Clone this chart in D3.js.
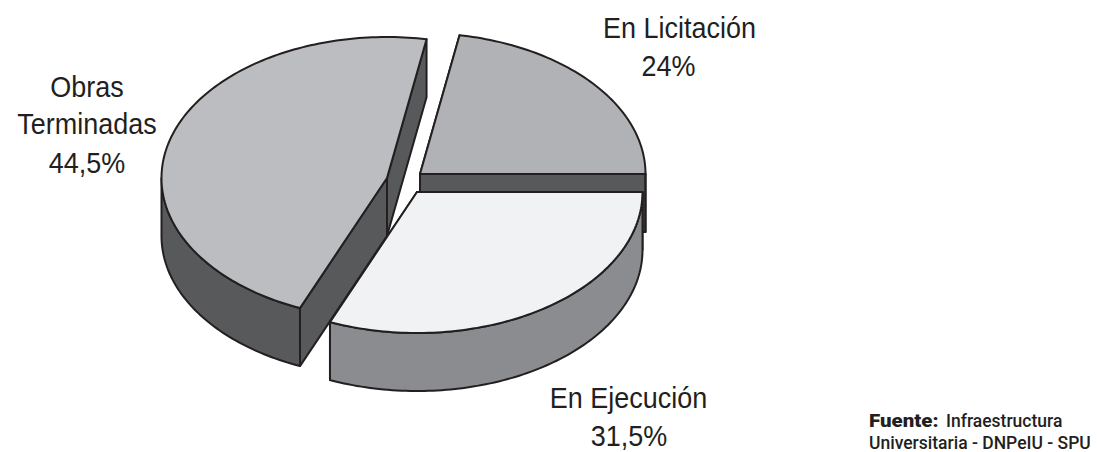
<!DOCTYPE html>
<html>
<head>
<meta charset="utf-8">
<script src="https://cdn.jsdelivr.net/npm/d3@7"></script>
<style>
  html, body { margin: 0; padding: 0; background: #fff; }
  svg { display: block; }
</style>
</head>
<body>
<div id="pie_chart"></div>
<script>
// the data
var categories = ["En Licitación", "En Ejecución", "Obras Terminadas"];
var printedValues = ["24%", "31,5%", "44,5%"];
// share of the circle each slice really takes up in the drawing (the printed
// figures above are not what the original artwork was drawn with)
var drawnShares = [22.2, 31.3, 46.5];

// set the dimensions of the graph
var width = 1097;
var height = 452;
var rx = 225.5;
var ry = 141;
var depth = 58;
var startDeg = 10.1;

// where each slice's tip ends up after the explode, same order as categories
var tips = [[420, 174], [417, 192], [387, 178]];
var topColor = ["#b1b2b5", "#f1f2f4", "#bcbdc0"];
var wallColor = ["#58595b", "#8b8c8f", "#58595b"];
var lineColor = "#231f20";

var svg = d3.select("#pie_chart")
  .append("svg")
    .attr("width", width)
    .attr("height", height);

var pie = d3.pie()
  .sort(null)
  .startAngle(startDeg * Math.PI / 180)
  .endAngle((startDeg + 360) * Math.PI / 180);

var slices = pie(drawnShares);

// unit circle -> flattened ellipse
var sx = d3.scaleLinear().domain([-1, 1]).range([-rx, rx]);
var sy = d3.scaleLinear().domain([-1, 1]).range([ry, -ry]);

function rim(tip, a, drop) {
  return [tip[0] + sx(Math.sin(a)), tip[1] + sy(Math.cos(a)) + (drop || 0)];
}

function sample(a0, a1) {
  return d3.range(a0, a1, 0.02).concat([a1]);
}

var line = d3.line();

function shape(points, fill) {
  svg.append("path")
    .attr("d", line(points) + "Z")
    .attr("fill", fill)
    .attr("stroke", lineColor)
    .attr("stroke-width", 2)
    .attr("stroke-linejoin", "round");
}

// Obras first, then Licitacion, Ejecucion goes on top of both
[2, 0, 1].forEach(function(i) {
  var s = slices[i];
  var tip = tips[i];

  // the two cut faces
  [s.startAngle, s.endAngle].forEach(function(a) {
    shape([
      tip,
      rim(tip, a),
      rim(tip, a, depth),
      [tip[0], tip[1] + depth]
    ], wallColor[i]);
  });

  // outside wall, only the front half can be seen
  var a0 = Math.max(s.startAngle, Math.PI / 2);
  var a1 = Math.min(s.endAngle, Math.PI * 1.5);
  if (a1 > a0) {
    var angles = sample(a0, a1);
    var upper = angles.map(function(a) { return rim(tip, a); });
    var lower = angles.map(function(a) { return rim(tip, a, depth); }).reverse();
    shape(upper.concat(lower), wallColor[i]);
  }

  // top of the slice
  var arcPts = sample(s.startAngle, s.endAngle).map(function(a) { return rim(tip, a); });
  shape([tip].concat(arcPts), topColor[i]);
});

// labels, the original type is a bit narrower than Liberation so squeeze it
function label(x, y, txt) {
  svg.append("text")
    .attr("transform", "translate(" + x + "," + y + ") scale(0.93,1)")
    .attr("text-anchor", "middle")
    .attr("font-family", "'Liberation Sans', Arial, sans-serif")
    .attr("font-size", 29)
    .attr("fill", "#231f20")
    .text(txt);
}

label(679.5, 38, categories[0]);
label(668.5, 76, printedValues[0]);
label(628.5, 408, categories[1]);
label(629, 446, printedValues[1]);
label(87, 97, "Obras");
label(87, 134, "Terminadas");
label(87, 173, printedValues[2]);

// source note
function note(x, y, txt, weight, stretch) {
  svg.append("text")
    .attr("transform", "translate(" + x + "," + y + ") scale(" + stretch + ",1)")
    .attr("font-family", "Roboto, sans-serif")
    .attr("font-size", 17.5)
    .attr("font-weight", weight)
    .attr("fill", "#231f20")
    .text(txt);
}

note(869, 427, "Fuente:", 900, 1.17);
note(946, 427, "Infraestructura", 500, 1);
note(869, 449, "Universitaria - DNPeIU - SPU", 500, 1);
</script>
</body>
</html>
